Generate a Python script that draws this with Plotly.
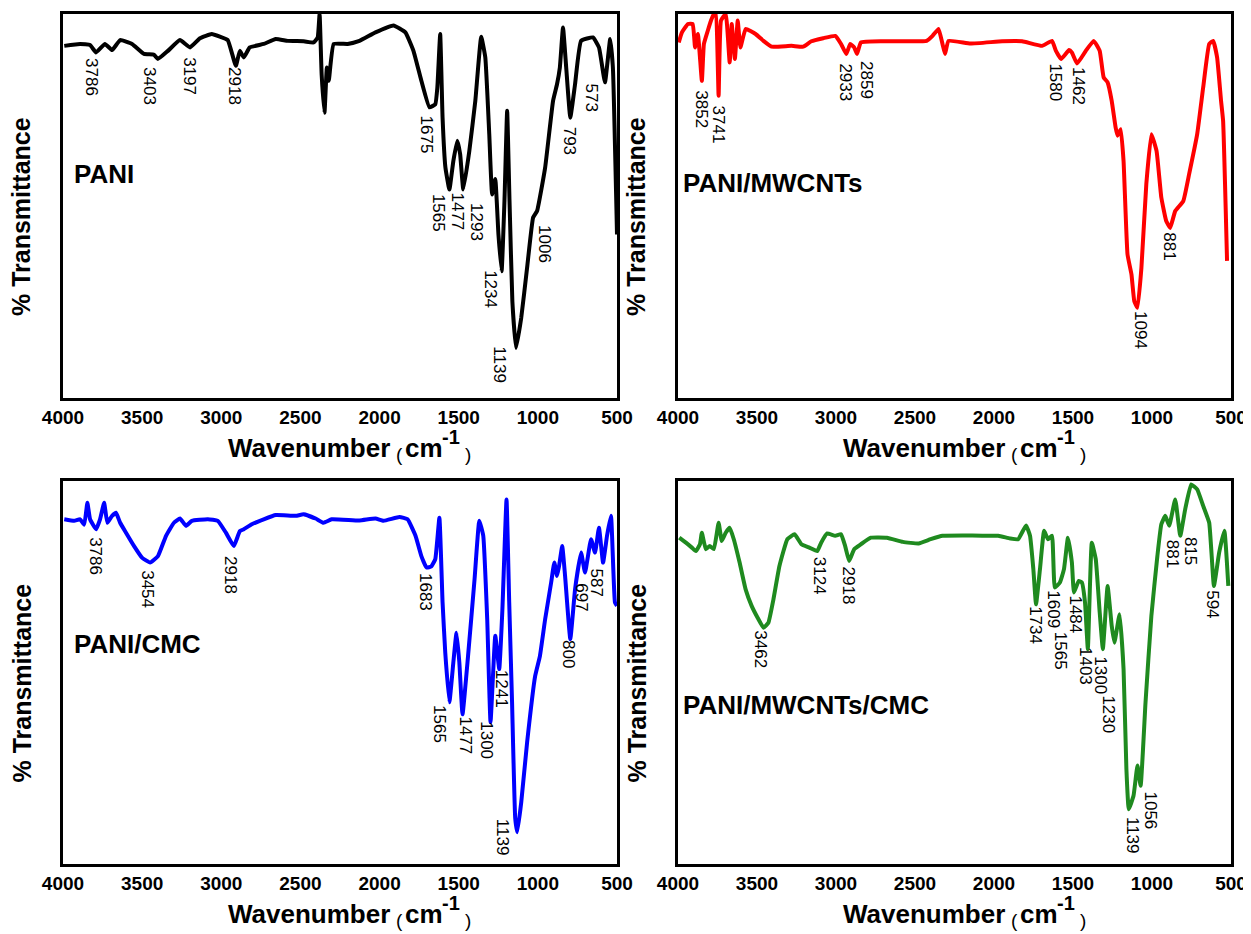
import plotly.graph_objects as go

# ---------------- data (wavenumber cm-1, % transmittance, arbitrary scale) ----------------
pani_wn = [3992, 3892, 3829, 3791, 3735, 3690, 3639, 3564, 3488, 3425, 3400, 3337, 3261, 3198, 3135, 3060,
           3009, 2959, 2908, 2883, 2858, 2820, 2732, 2656, 2580, 2480, 2417, 2391, 2379, 2366, 2348, 2333,
           2321, 2290, 2202, 2127, 2026, 1912, 1837, 1786, 1736, 1685, 1648, 1635, 1617, 1602, 1584, 1559,
           1534, 1509, 1491, 1471, 1433, 1395, 1358, 1332, 1307, 1289, 1269, 1249, 1229, 1211, 1194, 1179,
           1161, 1138, 1105, 1068, 1030, 1005, 954, 904, 879, 861, 841, 821, 795, 765, 727, 652, 614, 576,
           543, 526, 500]
pani_t = [91.7, 92.2, 91.9, 90.0, 92.2, 90.6, 93.2, 92.2, 89.6, 89.4, 88.3, 90.4, 93.2, 91.3, 93.7, 94.8,
          94.1, 93.2, 86.5, 90.4, 88.7, 91.3, 92.2, 93.5, 93.0, 92.9, 92.6, 93.9, 100.0, 84.3, 74.3, 86.1,
          82.6, 92.2, 92.2, 93.0, 95.2, 97.0, 95.2, 90.4, 82.6, 75.7, 76.5, 80.9, 94.8, 73.0, 60.0, 54.3,
          61.7, 67.0, 63.5, 54.3, 64.3, 77.4, 94.1, 88.7, 68.7, 53.0, 57.0, 42.6, 33.0, 51.3, 74.8, 51.3,
          25.2, 13.0, 20.9, 33.9, 47.0, 48.7, 60.0, 77.4, 81.7, 86.1, 96.5, 86.1, 73.0, 81.7, 93.0, 93.9, 91.3, 82.2,
          93.5, 86.1, 42.6]

mw_wn = [3995, 3975, 3937, 3907, 3892, 3874, 3849, 3836, 3811, 3791, 3773, 3761, 3743, 3728, 3698, 3673,
         3660, 3640, 3622, 3605, 3572, 3509, 3459, 3408, 3282, 3207, 3156, 3081, 3005, 2968, 2935, 2910,
         2885, 2867, 2842, 2703, 2577, 2426, 2389, 2351, 2326, 2310, 2288, 2149, 1948, 1822, 1696, 1633,
         1608, 1575, 1525, 1507, 1474, 1419, 1369, 1331, 1306, 1281, 1255, 1230, 1218, 1198, 1180, 1155,
         1130, 1112, 1092, 1067, 1036, 1004, 971, 941, 910, 885, 853, 802, 765, 714, 676, 638, 613, 588,
         563, 550, 525]
mw_t = [92.6, 95.2, 97.4, 97.4, 91.3, 94.8, 82.6, 92.2, 95.7, 98.3, 100.0, 100.0, 78.7, 98.3, 100.0, 87.4,
        97.4, 88.3, 98.3, 91.3, 96.1, 94.8, 93.0, 91.5, 91.7, 91.5, 92.9, 93.7, 94.3, 92.2, 89.6, 92.2,
        91.3, 89.6, 92.6, 92.9, 92.9, 93.0, 94.3, 96.1, 92.2, 89.6, 93.0, 92.3, 92.9, 92.9, 91.7, 93.0,
        90.4, 88.3, 90.6, 90.0, 87.1, 90.4, 93.0, 90.4, 83.5, 82.2, 77.4, 70.4, 68.3, 70.0, 61.7, 37.4,
        32.2, 25.2, 23.5, 33.9, 55.7, 68.7, 64.3, 52.2, 46.1, 44.3, 48.7, 51.3, 58.3, 68.7, 80.9, 92.2, 93.0, 88.7,
        77.4, 72.2, 35.7]

cmc_wn = [3992, 3929, 3892, 3866, 3846, 3829, 3791, 3766, 3740, 3720, 3690, 3665, 3639, 3602, 3551, 3501,
          3450, 3400, 3349, 3299, 3261, 3223, 3186, 3085, 3022, 2971, 2921, 2883, 2858, 2807, 2732, 2656,
          2530, 2480, 2404, 2354, 2303, 2127, 2026, 1975, 1874, 1823, 1773, 1736, 1703, 1673, 1648, 1622,
          1602, 1585, 1559, 1534, 1514, 1496, 1476, 1441, 1400, 1370, 1345, 1320, 1299, 1269, 1244, 1224,
          1198, 1181, 1163, 1143, 1130, 1105, 1068, 1017, 987, 954, 916, 896, 879, 866, 846, 828, 795, 765,
          727, 702, 664, 639, 614, 588, 563, 538, 513, 500]
cmc_t = [90.0, 89.6, 90.0, 88.6, 94.3, 90.0, 87.4, 90.0, 94.3, 89.1, 90.9, 91.7, 89.1, 86.5, 83.0, 80.0,
         78.7, 80.4, 85.7, 89.1, 90.2, 88.3, 89.6, 90.0, 89.6, 86.5, 83.0, 86.9, 87.4, 88.7, 90.0, 91.1,
         90.9, 91.3, 90.2, 89.1, 90.0, 89.7, 90.2, 89.6, 90.6, 90.0, 85.7, 80.4, 77.4, 77.7, 79.6, 90.4,
         68.3, 55.2, 42.2, 52.6, 60.4, 52.6, 39.1, 54.3, 74.3, 89.6, 85.7, 63.9, 37.0, 59.6, 50.9, 66.5,
         95.2, 68.3, 42.2, 11.9, 8.3, 16.1, 31.7, 49.1, 54.3, 63.9, 73.5, 78.7, 75.2, 77.8, 83.0, 75.2, 58.7, 71.7,
         81.3, 76.1, 84.8, 81.3, 87.8, 78.7, 85.7, 90.9, 68.3, 67.4]

mwc_wn = [3992, 3950, 3912, 3887, 3861, 3849, 3824, 3799, 3773, 3743, 3723, 3698, 3673, 3647, 3610, 3572,
          3534, 3496, 3459, 3428, 3396, 3358, 3308, 3262, 3219, 3169, 3119, 3094, 3056, 3005, 2968, 2942,
          2917, 2885, 2842, 2779, 2678, 2577, 2477, 2401, 2326, 2200, 2074, 1973, 1898, 1847, 1797, 1772,
          1751, 1734, 1709, 1683, 1658, 1633, 1615, 1583, 1557, 1532, 1507, 1494, 1464, 1444, 1424, 1406,
          1381, 1356, 1331, 1311, 1281, 1255, 1238, 1205, 1180, 1162, 1147, 1117, 1092, 1072, 1041, 1004,
          966, 941, 916, 891, 853, 821, 790, 752, 714, 676, 638, 608, 575, 542, 517]
mwc_t = [85.2, 83.9, 82.6, 81.7, 83.5, 86.5, 82.2, 83.0, 82.2, 89.1, 84.3, 86.5, 87.8, 84.8, 78.7, 71.7,
         67.4, 64.3, 61.7, 63.0, 69.1, 77.8, 84.8, 86.1, 83.5, 82.6, 81.7, 83.9, 86.3, 85.7, 86.1, 83.0,
         79.1, 82.2, 83.5, 85.2, 85.2, 84.1, 83.7, 84.8, 85.7, 85.8, 85.7, 85.7, 85.0, 84.8, 88.4, 85.7,
         77.0, 67.8, 77.0, 87.0, 84.8, 85.7, 72.2, 73.5, 77.0, 85.2, 78.7, 70.9, 73.9, 73.5, 68.3, 56.1,
         83.9, 79.6, 65.7, 56.1, 72.6, 62.2, 57.8, 65.2, 50.9, 24.8, 14.3, 17.8, 25.7, 20.4, 42.2, 64.8,
         80.4, 88.7, 90.9, 88.3, 95.2, 85.7, 92.6, 99.1, 97.8, 93.5, 89.1, 72.6, 81.3, 87.0, 72.6]

sample_names = ["PANI", "PANI/MWCNTs", "PANI/CMC", "PANI/MWCNTs/CMC"]
tick_values = [4000, 3500, 3000, 2500, 2000, 1500, 1000, 500]

# peak labels (text) and where they are written (wavenumber, transmittance)
pani_peaks = ["3786", "3403", "3197", "2918", "1675", "1565", "1477", "1293", "1234", "1139", "1006", "793", "573"]
pani_peak_x = [3821, 3458, 3206, 2921, 1703, 1627, 1509, 1388, 1295, 1244, 959, 803, 659]
pani_peak_y = [83.5, 81.3, 83.9, 81.3, 68.7, 48.3, 48.5, 45.7, 28.3, 8.7, 40.0, 67.0, 78.3]

mw_peaks = ["3852", "3741", "2933", "2859", "1580", "1462", "1094", "881"]
mw_peak_x = [3849, 3743, 2937, 2804, 1608, 1470, 1072, 895]
mw_peak_y = [75.2, 71.3, 82.2, 82.8, 82.2, 81.3, 17.8, 39.6]

cmc_peaks = ["3786", "3454", "2918", "1683", "1565", "1477", "1300", "1241", "1139", "800", "697", "587"]
cmc_peak_x = [3796, 3468, 2938, 1710, 1617, 1459, 1325, 1232, 1224, 803, 727, 627]
cmc_peak_y = [80.3, 71.7, 75.4, 70.9, 36.5, 33.5, 32.2, 45.7, 7.0, 54.8, 69.6, 73.5]

mwc_peaks = ["3462", "3124", "2918", "1734", "1609", "1565", "1484", "1403", "1300", "1230", "1139", "1056", "881", "815", "594"]
mwc_peak_x = [3476, 3106, 2922, 1739, 1620, 1583, 1482, 1424, 1324, 1273, 1122, 1011, 865, 752, 613]
mwc_peak_y = [56.1, 75.2, 72.6, 62.3, 66.5, 55.7, 65.2, 51.7, 49.3, 39.1, 7.4, 13.9, 80.9, 81.7, 67.8]

# ---------------- figure ----------------
OFF = 8                      # default page margin of the html body
W, H = 1251 - OFF, 934 - OFF
FONT = "Liberation Sans, Arial, Helvetica, sans-serif"
colors = ["#000000", "#FF0000", "#0000FF", "#1F8A1F"]
series = [(pani_wn, pani_t), (mw_wn, mw_t), (cmc_wn, cmc_t), (mwc_wn, mwc_t)]
peaks = [(pani_peaks, pani_peak_x, pani_peak_y), (mw_peaks, mw_peak_x, mw_peak_y),
         (cmc_peaks, cmc_peak_x, cmc_peak_y), (mwc_peaks, mwc_peak_x, mwc_peak_y)]

# panel boxes in page pixels (left, right, top, bottom)
boxes = [(63, 617, 14, 398), (678, 1231, 14, 398), (63, 617, 481, 864), (678, 1231, 481, 864)]
name_pos = [(0.016, 0.583), (0.006, 0.56), (0.016, 0.574), (0.006, 0.415)]


def px(xp):
    return (xp - OFF) / W


def py(yp):
    return 1 - (yp - OFF) / H


def txt(text, x, y, size, xanchor="left", angle=0):
    return dict(text=text, xref="paper", yref="paper", x=px(x), y=py(y), xanchor=xanchor,
                yanchor="middle", textangle=angle, showarrow=False,
                font=dict(size=size, family=FONT, color="black"))


fig = go.Figure()
layout = dict(width=W, height=H, margin=dict(l=0, r=0, t=0, b=0, autoexpand=False),
              paper_bgcolor="white", plot_bgcolor="white", showlegend=False,
              font=dict(family=FONT, color="black"))
annotations = []

for i in range(4):
    sfx = "" if i == 0 else str(i + 1)
    xa, ya = "x" + sfx, "y" + sfx
    wn, t = series[i]
    fig.add_trace(go.Scatter(x=wn, y=t, mode="lines", xaxis=xa, yaxis=ya,
                             line=dict(color=colors[i], width=4, shape="spline", smoothing=0.35),
                             hoverinfo="x+y"))
    l, r, tp, bt = boxes[i]
    layout["xaxis" + sfx] = dict(domain=[px(l), px(r)], range=[4000, 500], anchor=ya, automargin=False,
                                 tickvals=tick_values, ticktext=[f"<b>{v}</b>" for v in tick_values],
                                 tickfont=dict(size=19, family=FONT, color="black"),
                                 ticklabeloverflow="allow",
                                 showline=True, linecolor="black", linewidth=2.5, mirror=True,
                                 showgrid=False, zeroline=False, ticks="", ticklen=0)
    layout["yaxis" + sfx] = dict(domain=[py(bt), py(tp)], range=[0, 100], anchor=xa, automargin=False,
                                 showticklabels=False, showline=True, linecolor="black", linewidth=2.5,
                                 mirror=True, showgrid=False, zeroline=False, ticks="")
    # sample name
    annotations.append(dict(text=f"<b>{sample_names[i]}</b>", xref=xa + " domain", yref=ya + " domain",
                            x=name_pos[i][0], y=name_pos[i][1], xanchor="left", yanchor="middle",
                            showarrow=False, font=dict(size=26, family=FONT, color="black")))
    # y title
    annotations.append(txt("<b>% Transmittance</b>", l - 42, (tp + bt) / 2 + 11, 25, "center", -90))
    # x title: "Wavenumber (cm-1)" with small thin parentheses and a large superscript
    ty = bt + 50
    annotations.append(txt("<b>Wavenumber</b>", l + 163, ty, 26))
    annotations.append(txt("(", l + 336, ty + 6, 19, "center"))
    annotations.append(txt("<b>cm</b>", l + 340, ty, 26))
    annotations.append(txt("<b>-1</b>", l + 377, ty - 11, 20))
    annotations.append(txt(")", l + 405, ty + 6, 19, "center"))
    # peak labels
    tx, pxs, pys = peaks[i]
    for s, xx, yy in zip(tx, pxs, pys):
        annotations.append(dict(text=s, x=xx, y=yy, xref=xa, yref=ya, textangle=90, showarrow=False,
                                xanchor="center", yanchor="middle",
                                font=dict(size=17, family=FONT, color="black")))

layout["annotations"] = annotations
fig.update_layout(**layout)
fig.write_html("out.html")
